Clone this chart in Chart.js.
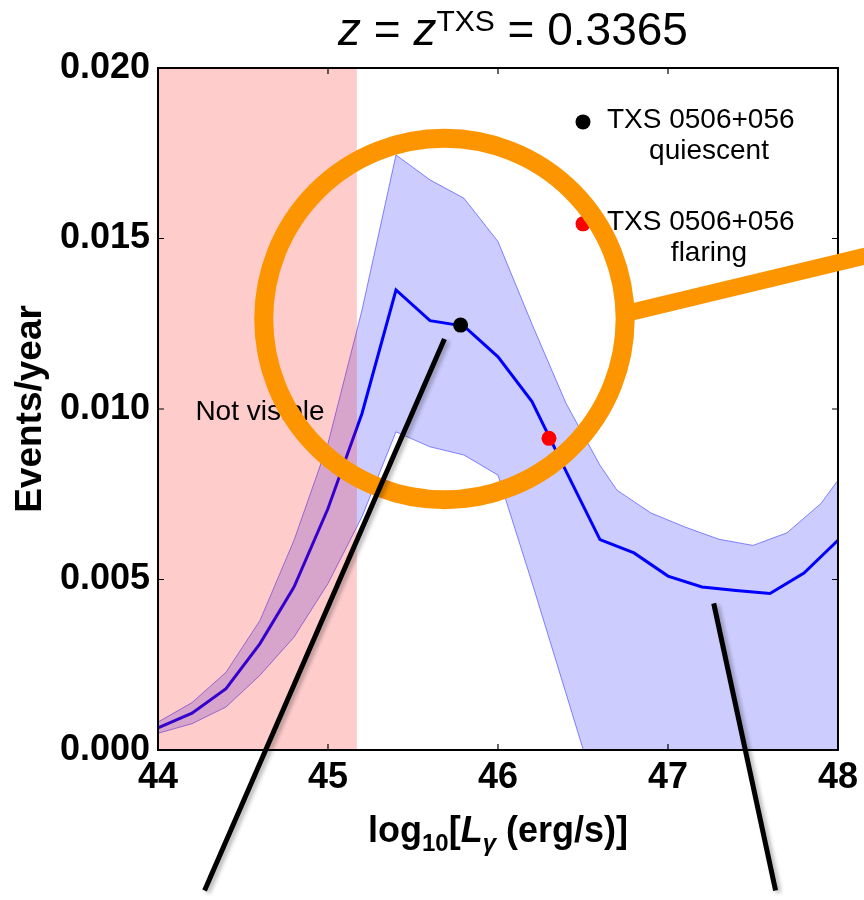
<!DOCTYPE html>
<html>
<head>
<meta charset="utf-8">
<script src="https://cdn.jsdelivr.net/npm/chart.js@4.4.1/dist/chart.umd.min.js"></script>
<style>
  html, body { margin: 0; padding: 0; background: #fff; }
  canvas { display: block; }
</style>
</head>
<body>
<canvas id="grafica" width="864" height="900"></canvas>
<script>
// ==============================
// DATOS
// ==============================
const logL = [44.0, 44.2, 44.4, 44.6, 44.8, 45.0, 45.2, 45.4, 45.6, 45.8, 46.0,
              46.2, 46.4, 46.6, 46.8, 47.0, 47.2, 47.4, 47.6, 47.8, 48.0];
const eventosMediana = [0.00065, 0.00108, 0.00180, 0.00312, 0.00478, 0.00708, 0.00987,
                        0.01349, 0.01259, 0.01243, 0.01153, 0.01022, 0.00818, 0.00617,
                        0.00578, 0.00510, 0.00478, 0.00468, 0.00459, 0.00519, 0.00615];

// banda de incertidumbre (su propia rejilla en log L)
const bandaLogL = [44.0, 44.2, 44.4, 44.6, 44.8, 45.0, 45.2, 45.4, 45.6, 45.8, 46.0,
                   46.2, 46.4, 46.6, 46.7, 46.9, 47.1, 47.3, 47.5, 47.7, 47.9, 48.0];
const bandaAlta = [0.00082, 0.00139, 0.00228, 0.00380, 0.00615, 0.00899, 0.01290,
                   0.01745, 0.01672, 0.01618, 0.01491, 0.01249, 0.01017, 0.00835,
                   0.00762, 0.00695, 0.00654, 0.00618, 0.00600, 0.00637, 0.00723, 0.00791];
const bandaBaja = [0.00049, 0.00077, 0.00126, 0.00219, 0.00331, 0.00488, 0.00684,
                   0.00933, 0.00889, 0.00865, 0.00806, 0.00491, 0.00166, -0.00160,
                   -0.00320, -0.00320, -0.00320, -0.00320, -0.00320, -0.00320, -0.00320, -0.00320];

// fuentes
const txsQuiescente = { x: 45.78, y: 0.01246 };
const txsFlaring = { x: 46.30, y: 0.00914 };

const ticksX = [44, 45, 46, 47, 48];
const ticksY = [0.000, 0.005, 0.010, 0.015, 0.020];
const limiteNoVisible = 45.17;

// anotaciones (coordenadas de datos)
const anillo = { x: 45.685, y: 0.01264, radio: 1.063 };
const lineaNaranja = [[46.77, 0.01282], [48.24, 0.01458]];
const lineasNegras = [
  [[45.685, 0.01205], [44.274, -0.00412]],
  [[47.269, 0.00430], [47.633, -0.00412]]
];

const FUENTE = '"Liberation Sans", Arial, Helvetica, sans-serif';

function puntos(xs, ys) {
  return xs.map((x, i) => ({ x: x, y: ys[i] }));
}

// dibuja un texto compuesto por piezas (sub/superindices)
function textoCompuesto(ctx, piezas, cx, base) {
  let total = 0;
  piezas.forEach(p => { ctx.font = p.f; p.w = ctx.measureText(p.t).width; total += p.w; });
  let x = cx - total / 2;
  ctx.textAlign = 'left';
  ctx.textBaseline = 'alphabetic';
  piezas.forEach(p => {
    ctx.font = p.f;
    ctx.fillText(p.t, x, base + (p.dy || 0));
    x += p.w;
  });
}

// ==============================
// PLUGIN DE DECORACIONES
// ==============================
const decoraciones = {
  id: 'decoraciones',
  afterDatasetsDraw(chart) {
    const { ctx, chartArea: a, scales: { x, y } } = chart;
    const px = v => x.getPixelForValue(v);
    const py = v => y.getPixelForValue(v);

    ctx.save();

    // zona no visible
    ctx.fillStyle = 'rgba(255,0,0,0.2)';
    ctx.fillRect(a.left, a.top, px(limiteNoVisible) - a.left, a.bottom - a.top);

    ctx.fillStyle = '#000';
    ctx.font = '28px ' + FUENTE;
    ctx.textAlign = 'left';
    ctx.textBaseline = 'alphabetic';
    ctx.fillText('Not visible', px(44.22), py(0.00967));

    // leyenda
    const leyenda = [
      { color: '#000000', x: 46.5, y: 0.01842, linea2: 'quiescent' },
      { color: '#ff0000', x: 46.5, y: 0.01543, linea2: 'flaring' }
    ];
    leyenda.forEach(l => {
      const lx = px(l.x), ly = py(l.y);
      ctx.fillStyle = l.color;
      ctx.beginPath();
      ctx.arc(lx, ly, 7.5, 0, Math.PI * 2);
      ctx.fill();
      ctx.fillStyle = '#000';
      ctx.font = '28px ' + FUENTE;
      ctx.textAlign = 'left';
      ctx.fillText('TXS 0506+056', lx + 24, ly + 6);
      ctx.textAlign = 'center';
      ctx.fillText(l.linea2, lx + 126, ly + 37);
    });

    // marco y ticks hacia dentro
    ctx.strokeStyle = '#000';
    ctx.lineWidth = 2;
    ctx.strokeRect(a.left, a.top, a.right - a.left, a.bottom - a.top);
    ctx.lineWidth = 1.2;
    ctx.beginPath();
    ticksX.forEach(v => {
      const t = px(v);
      ctx.moveTo(t, a.bottom); ctx.lineTo(t, a.bottom - 6);
      ctx.moveTo(t, a.top); ctx.lineTo(t, a.top + 6);
    });
    ticksY.forEach(v => {
      const t = py(v);
      ctx.moveTo(a.left, t); ctx.lineTo(a.left + 6, t);
      ctx.moveTo(a.right, t); ctx.lineTo(a.right - 6, t);
    });
    ctx.stroke();

    // anillo naranja y su linea
    ctx.strokeStyle = '#fd9500';
    ctx.lineWidth = 19;
    ctx.beginPath();
    ctx.arc(px(anillo.x), py(anillo.y), px(anillo.x + anillo.radio) - px(anillo.x), 0, Math.PI * 2);
    ctx.stroke();
    ctx.lineWidth = 17;
    ctx.beginPath();
    ctx.moveTo(px(lineaNaranja[0][0]), py(lineaNaranja[0][1]));
    ctx.lineTo(px(lineaNaranja[1][0]), py(lineaNaranja[1][1]));
    ctx.stroke();

    // lineas negras
    ctx.strokeStyle = '#000';
    ctx.lineWidth = 5;
    ctx.shadowColor = 'rgba(0,0,0,0.3)';
    ctx.shadowBlur = 4;
    ctx.shadowOffsetX = 3;
    ctx.shadowOffsetY = 2;
    lineasNegras.forEach(seg => {
      ctx.beginPath();
      ctx.moveTo(px(seg[0][0]), py(seg[0][1]));
      ctx.lineTo(px(seg[1][0]), py(seg[1][1]));
      ctx.stroke();
    });

    ctx.restore();
  },
  afterDraw(chart) {
    const { ctx, chartArea: a } = chart;
    ctx.save();
    ctx.fillStyle = '#000';

    // titulo
    textoCompuesto(ctx, [
      { t: 'z', f: 'italic 46px ' + FUENTE },
      { t: ' = ', f: '46px ' + FUENTE },
      { t: 'z', f: 'italic 46px ' + FUENTE },
      { t: 'TXS', f: '30px ' + FUENTE, dy: -14 },
      { t: ' = 0.3365', f: '46px ' + FUENTE }
    ], 513, 45);

    // titulo eje x
    textoCompuesto(ctx, [
      { t: 'log', f: 'bold 36px ' + FUENTE },
      { t: '10', f: 'bold 24px ' + FUENTE, dy: 9 },
      { t: '[', f: 'bold 36px ' + FUENTE },
      { t: 'L', f: 'italic bold 36px ' + FUENTE },
      { t: 'γ', f: 'italic bold 24px ' + FUENTE, dy: 9 },
      { t: ' (erg/s)]', f: 'bold 36px ' + FUENTE }
    ], (a.left + a.right) / 2, 842);

    // titulo eje y
    ctx.translate(31, (a.top + a.bottom) / 2);
    ctx.rotate(-Math.PI / 2);
    ctx.font = 'bold 37px ' + FUENTE;
    ctx.textAlign = 'center';
    ctx.textBaseline = 'middle';
    ctx.fillText('Events/year', 0, 0);
    ctx.restore();
  }
};

// ==============================
// GRAFICA
// ==============================
const grafica = new Chart(document.getElementById('grafica'), {
  type: 'line',
  data: {
    datasets: [
      {
        data: puntos(bandaLogL, bandaAlta),
        order: 3,
        borderColor: 'rgba(0,0,255,0.45)',
        borderWidth: 1,
        backgroundColor: 'rgba(0,0,255,0.2)',
        fill: '+1',
        pointRadius: 0
      },
      {
        data: puntos(bandaLogL, bandaBaja),
        order: 2,
        borderColor: 'rgba(0,0,255,0.45)',
        borderWidth: 1,
        fill: false,
        pointRadius: 0
      },
      {
        data: puntos(logL, eventosMediana),
        order: 1,
        borderColor: '#0000ff',
        borderWidth: 3,
        fill: false,
        pointRadius: 0
      },
      {
        data: [txsQuiescente],
        order: 0,
        showLine: false,
        pointRadius: 7.5,
        pointBackgroundColor: '#000000',
        pointBorderWidth: 0
      },
      {
        data: [txsFlaring],
        order: 0,
        showLine: false,
        pointRadius: 7.5,
        pointBackgroundColor: '#ff0000',
        pointBorderWidth: 0
      }
    ]
  },
  options: {
    responsive: false,
    animation: false,
    devicePixelRatio: 1,
    layout: { padding: { left: 0, top: 68, right: 24, bottom: 0 } },
    plugins: {
      legend: { display: false },
      tooltip: { enabled: false }
    },
    scales: {
      x: {
        type: 'linear',
        min: 44,
        max: 48,
        afterBuildTicks: s => { s.ticks = ticksX.map(v => ({ value: v })); },
        afterFit: s => { s.height = 150; },
        grid: { display: false, drawTicks: false },
        border: { display: false },
        ticks: {
          color: '#000',
          padding: 6,
          maxRotation: 0,
          font: { family: FUENTE, size: 36, weight: 'bold' },
          callback: v => String(v)
        }
      },
      y: {
        min: 0,
        max: 0.02,
        afterBuildTicks: s => { s.ticks = ticksY.map(v => ({ value: v })); },
        afterFit: s => { s.width = 158; },
        grid: { display: false, drawTicks: false },
        border: { display: false },
        ticks: {
          color: '#000',
          padding: 8,
          font: { family: FUENTE, size: 36, weight: 'bold' },
          callback: v => v.toFixed(3)
        }
      }
    }
  },
  plugins: [decoraciones]
});
</script>
</body>
</html>
